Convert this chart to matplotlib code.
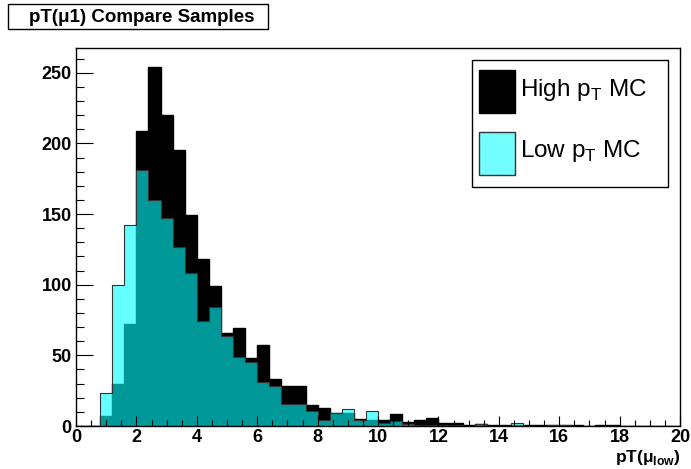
import numpy as np
import matplotlib
matplotlib.use("Agg")
import matplotlib.pyplot as plt
from matplotlib.patches import Rectangle
from matplotlib.ticker import MultipleLocator

plt.rcParams["font.family"] = ["Liberation Sans", "DejaVu Sans"]
plt.rcParams["mathtext.fontset"] = "custom"
plt.rcParams["mathtext.rm"] = "Liberation Sans"
plt.rcParams["mathtext.bf"] = "Liberation Sans:bold"

# 50 bins of 0.4 from 0 to 20
bin_edges = np.linspace(0, 20, 51)
high_pt = [0, 0, 7, 30, 72, 209, 254, 220, 195, 149,
           118, 99, 66, 69, 48, 57, 33, 28, 28, 15,
           13, 9.5, 9, 5, 4.2, 4.2, 8.5, 3, 4.2, 6,
           2.4, 2, 0.5, 1.4, 0.5, 0.5, 1, 1, 0.5, 1,
           1, 0.5, 0, 1, 0.5, 0, 0, 0, 0, 0]
low_pt = [0, 0, 23, 100, 142, 181, 160, 147, 127, 108,
          74, 84, 64, 49, 45, 31, 28, 15.5, 15.5, 10.5,
          4.5, 9, 11.8, 4.2, 10.8, 2.4, 3.3, 1.4, 1, 0.7,
          0.7, 1, 0.3, 1.2, 0, 0, 2.4, 0.3, 0.3, 1,
          1, 0.3, 0, 0.3, 0, 0, 0, 0, 0, 0]

W, H = 691, 469
cyan_fill = (0.0, 1.0, 1.0, 0.6)
light_cyan = (0.45, 1.0, 1.0)


def fx(x):
    return x / W


def fy(y):
    return 1 - y / H


fig = plt.figure(figsize=(W / 100, H / 100), dpi=100)
ax = fig.add_axes([fx(76), fy(426), 604 / W, 378 / H])

ax.stairs(high_pt, bin_edges, fill=True, facecolor="black", edgecolor="black", linewidth=1)
ax.stairs(low_pt, bin_edges, fill=True, facecolor=cyan_fill, edgecolor="#333333", linewidth=0.8)

ax.set_xlim(0, 20)
ax.set_ylim(0, 267.5)
ax.xaxis.set_major_locator(MultipleLocator(2))
ax.xaxis.set_minor_locator(MultipleLocator(0.5))
ax.yaxis.set_major_locator(MultipleLocator(50))
ax.yaxis.set_minor_locator(MultipleLocator(10))
ax.tick_params(axis="both", which="both", direction="in", top=False, right=False,
               labelsize=13, pad=3, width=0.8)
ax.tick_params(axis="x", which="major", pad=2)
ax.tick_params(axis="y", which="major", length=12.5)
ax.tick_params(axis="y", which="minor", length=6)
ax.tick_params(axis="x", which="major", length=7.5)
ax.tick_params(axis="x", which="minor", length=4)
for lab in ax.get_xticklabels() + ax.get_yticklabels():
    lab.set_fontweight("bold")
for sp in ax.spines.values():
    sp.set_linewidth(1)

# x axis title
fig.text(fx(681), fy(467), r"pT(μ$_{\mathbf{low}}$)", ha="right", va="bottom",
         fontsize=12.5, fontweight="bold")

# title box
fig.patches.append(Rectangle((fx(8), fy(29)), 260 / W, 25 / H, transform=fig.transFigure,
                             facecolor="white", edgecolor="black", linewidth=1))
fig.text(fx(142), fy(17), "pT(μ1) Compare Samples", ha="center", va="center",
         fontsize=13.5, fontweight="bold")

# legend
fig.patches.append(Rectangle((fx(472), fy(187)), 196 / W, 127 / H, transform=fig.transFigure,
                             facecolor="white", edgecolor="black", linewidth=1, zorder=5))
fig.patches.append(Rectangle((fx(479), fy(113)), 36 / W, 43 / H, transform=fig.transFigure,
                             facecolor="black", edgecolor="black", linewidth=1, zorder=6))
fig.patches.append(Rectangle((fx(479), fy(175)), 36 / W, 43 / H, transform=fig.transFigure,
                             facecolor=light_cyan, edgecolor="#333333", linewidth=1, zorder=6))
fig.text(fx(520), fy(96), r"High p$_\mathregular{T}$ MC", ha="left", va="baseline",
         fontsize=17.5, zorder=7)
fig.text(fx(520), fy(157), r"Low p$_\mathregular{T}$ MC", ha="left", va="baseline",
         fontsize=17.5, zorder=7)

fig.savefig("out.png", dpi=100)
